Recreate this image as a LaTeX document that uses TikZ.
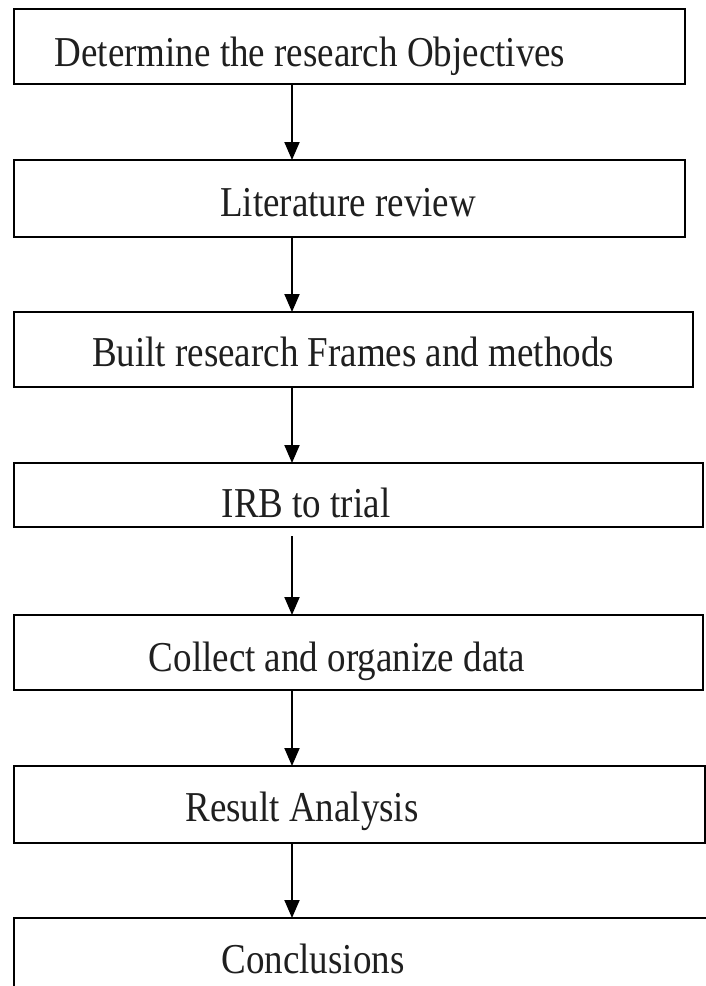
\documentclass[tikz,border=0pt]{standalone}
\usepackage{graphicx}
\usepackage{fontspec}
\setmainfont{Liberation Serif}
\usetikzlibrary{arrows.meta}
\newcommand{\tallt}[1]{\scalebox{1}[1.15]{#1}}
\begin{document}
\begin{tikzpicture}[x=1pt,y=-1pt,
  stepbox/.style={draw, line width=1.8pt, rectangle, inner sep=0pt, outer sep=0pt, anchor=north west},
  lbl/.style={anchor=base, inner sep=0pt, text=black!88, font=\fontsize{37}{40}\selectfont},
  arr/.style={line width=1.9pt, -{Triangle[width=15pt,length=18pt]}}]
\clip (0,0) rectangle (706,986);
\node[stepbox, minimum width=671pt, minimum height=75pt] (b1) at (14,9) {};
\node[stepbox, minimum width=671pt, minimum height=77pt] (b2) at (14,160) {};
\node[stepbox, minimum width=679pt, minimum height=75pt] (b3) at (14,312) {};
\node[stepbox, minimum width=689pt, minimum height=64pt] (b4) at (14,463) {};
\node[stepbox, minimum width=689pt, minimum height=75pt] (b5) at (14,615) {};
\node[stepbox, minimum width=691pt, minimum height=77pt] (b6) at (14,766) {};
\node[stepbox, minimum width=720pt, minimum height=100pt] (b7) at (14,918) {};
\node[lbl] (t1) at (310,66) {\tallt{Determine the research Objectives}};
\node[lbl] (t2) at (348,216) {\tallt{Literature review}};
\node[lbl] (t3) at (353,366) {\tallt{Built research Frames and methods}};
\node[lbl] (t4) at (306,517) {\tallt{IRB to trial}};
\node[lbl] (t5) at (337,671) {\tallt{Collect and organize data}};
\node[lbl] (t6) at (302,821) {\tallt{Result Analysis}};
\node[lbl] (t7) at (313,973) {\tallt{Conclusions}};
\coordinate (ax) at (292,0);
\draw[arr] (b1.south -| ax) -- (b2.north -| ax);
\draw[arr] (b2.south -| ax) -- (b3.north -| ax);
\draw[arr] (b3.south -| ax) -- (b4.north -| ax);
\draw[arr] ([yshift=-9pt]b4.south -| ax) -- (b5.north -| ax);
\draw[arr] (b5.south -| ax) -- (b6.north -| ax);
\draw[arr] (b6.south -| ax) -- (b7.north -| ax);
\end{tikzpicture}
\end{document}
